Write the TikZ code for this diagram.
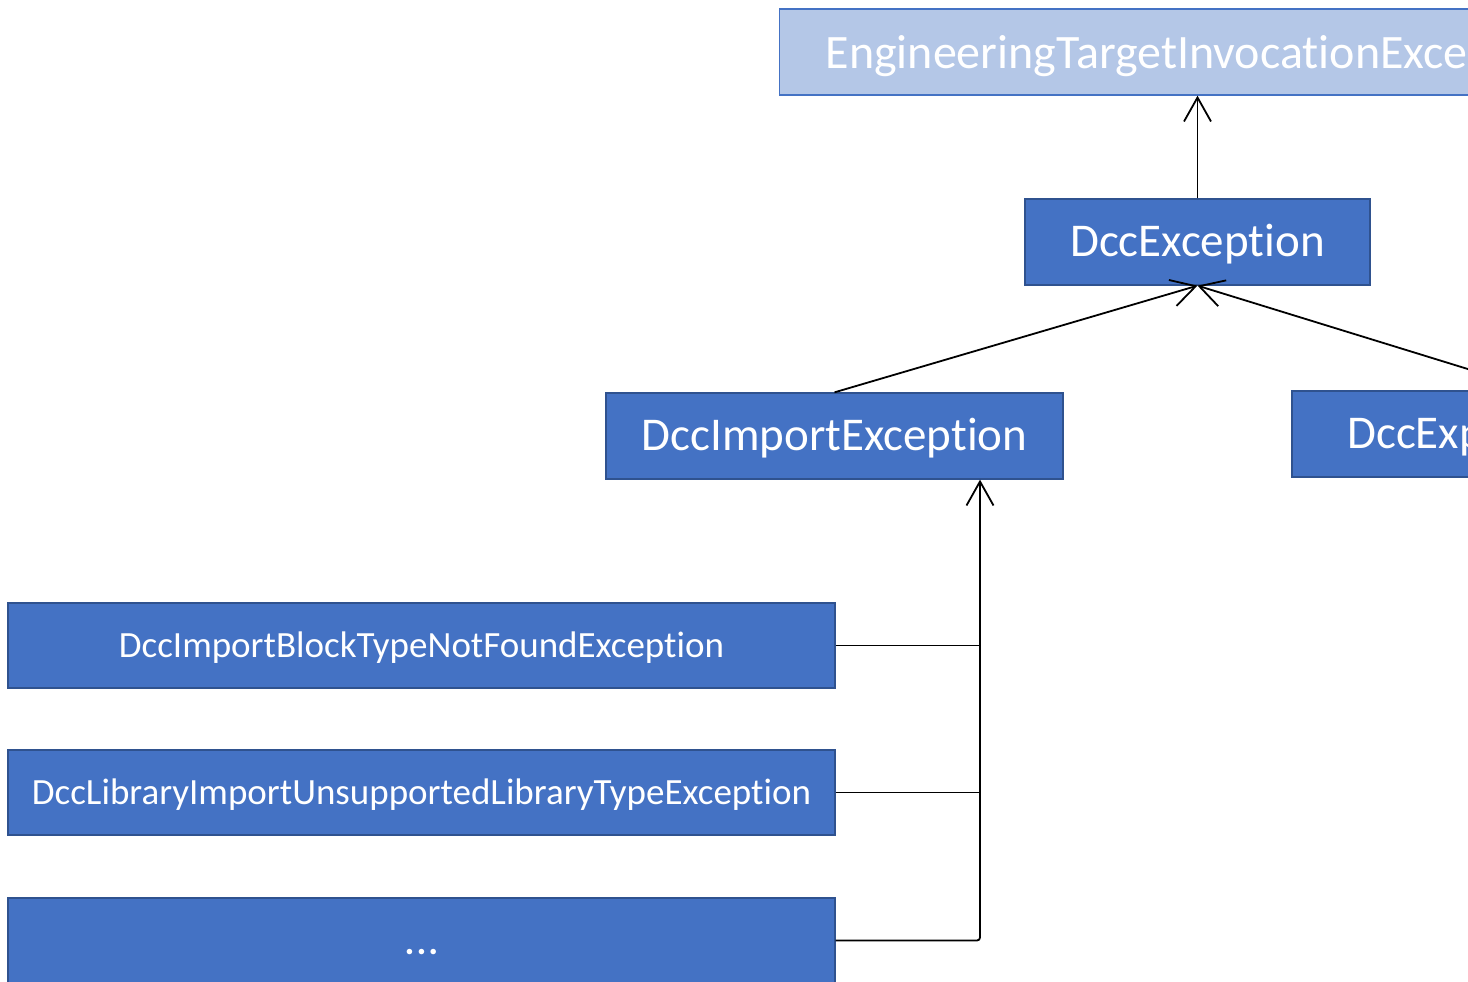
\documentclass[tikz,border=0pt]{standalone}
\usepackage{fontspec}
\setmainfont[Ligatures={NoCommon}]{Carlito}
\usetikzlibrary{arrows.meta, positioning}
\definecolor{boxblue}{HTML}{4472C4}
\definecolor{boxedge}{HTML}{2F528F}
\definecolor{paleblue}{HTML}{B4C7E7}

\begin{document}
\begin{tikzpicture}[x=1pt, y=-1pt,
        >={Straight Barb[length=24pt,width=27pt]},
        every node/.style={text=white, inner sep=0pt, text depth=0pt},
        cls/.style={draw=boxedge, line width=1.3pt, fill=boxblue,
        font=\fontsize{47}{56}\selectfont, text height=29pt, minimum height=86pt},
        sub/.style={cls, font=\fontsize{37}{44}\selectfont, text height=23pt,
        minimum width=827pt, minimum height=85pt},
        link/.style={line width=1.8pt, black}]
      \useasboundingbox (0,0) rectangle (1468,982);
      \clip (0,0) rectangle (1468,982);
      \node[cls, fill=paleblue, draw=boxblue, anchor=west, inner xsep=46pt,
        font=\fontsize{48}{57}\selectfont, text height=33pt] (eng) at (779,52) {EngineeringTargetInvocationException};
      \node[cls, minimum width=345pt] (dcc) at (1197.5,242) {DccException};
      \node[cls, minimum width=457pt] (dccimp) at (834.5,436) {DccImportException};
      \node[cls, minimum width=490pt] (dccexp) at (1537,434) {DccExportException};
      \node[sub] (blocktype) at (421.5,645.5) {DccImportBlockTypeNotFoundException};
      \node[sub] (libtype) at (421.5,792.5) {DccLibraryImportUnsupportedLibraryTypeException};
      \node[sub, text height=28pt] (more) at (421.5,940.5) {\bfseries .\hspace{2pt}.\hspace{2pt}.};
      \coordinate (bus) at (980,0);
      \draw[link, ->] (dcc.north) -- (dcc.north |- eng.south);
      \draw[link, ->] (dccimp.north) -- (dcc.south);
      \draw[link, ->] (dccexp.north) -- (dcc.south);
      \draw[link, ->, rounded corners=3pt] (more.east) -| (dccimp.south -| bus);
      \draw[link] (blocktype.east) -- (blocktype.east -| bus);
      \draw[link] (libtype.east) -- (libtype.east -| bus);
    \end{tikzpicture}
\end{document}
